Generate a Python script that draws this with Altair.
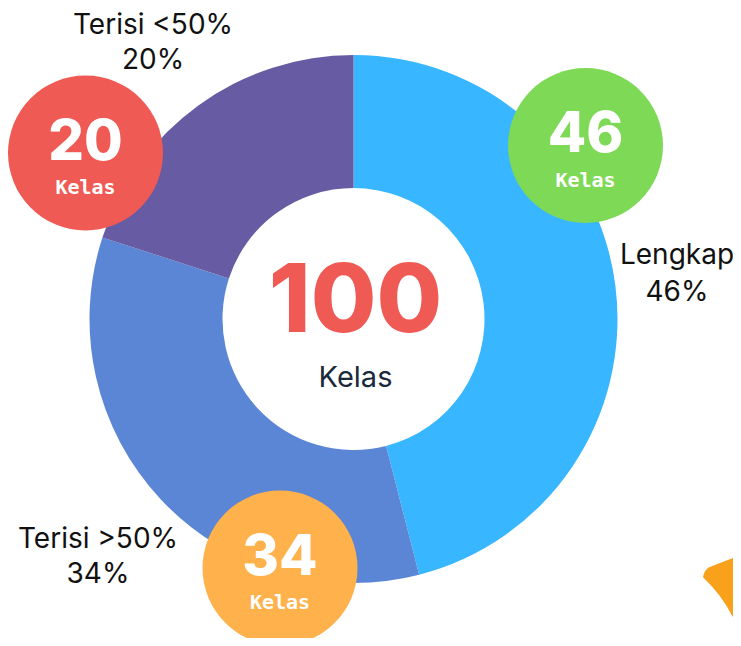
import altair as alt
import pandas as pd

# ---- data ----
categories = ["Lengkap", "Terisi >50%", "Terisi <50%"]
values = [46, 34, 20]
slice_colors = ["#38b6ff", "#5b86d5", "#675ba3"]
total_label = "100"
unit = "Kelas"

# badge circles (page coordinates of centres) and colours
badge_x = [585.5, 280, 85.5]
badge_y = [145.5, 568, 153]
badge_colors = ["#7ed957", "#ffb14b", "#f05a54"]

# outside labels (centre x, baselines of both lines)
label_x = [677, 98, 153]
label_y1 = [264, 548, 34]
label_y2 = [301, 583, 69]

# donut centre
donut_cx, donut_cy = 353.5, 319

W, H = 725, 630
xs = alt.Scale(domain=[8, 8 + W], range=[0, W])
ys = alt.Scale(domain=[8, 8 + H], range=[0, H])

pie_df = pd.DataFrame({
    "cat": categories, "value": values, "ord": [0, 1, 2],
    "cx": [donut_cx] * 3, "cy": [donut_cy] * 3,
})

donut = alt.Chart(pie_df).mark_arc(outerRadius=264, innerRadius=131).encode(
    theta=alt.Theta("value:Q", stack=True),
    order=alt.Order("ord:Q"),
    color=alt.Color("cat:N", scale=alt.Scale(domain=categories, range=slice_colors), legend=None),
    x=alt.X("cx:Q", scale=xs, axis=None),
    y=alt.Y("cy:Q", scale=ys, axis=None),
)

badge_df = pd.DataFrame({
    "value": values, "bx": badge_x, "by": badge_y, "bcolor": badge_colors,
    "num_y": [y + 6.5 for y in badge_y], "unit_y": [y + 41 for y in badge_y],
    "unit": [unit] * 3,
})
badge_df["num"] = badge_df["value"].astype(str)

badges = alt.Chart(badge_df).mark_circle(size=155 ** 2, opacity=1).encode(
    x=alt.X("bx:Q", scale=xs, axis=None),
    y=alt.Y("by:Q", scale=ys, axis=None),
    color=alt.Color("bcolor:N", scale=None, legend=None),
)

badge_num = alt.Chart(badge_df).mark_text(
    font="Inter", fontSize=56, fontWeight=800, color="white", align="center", baseline="alphabetic"
).encode(x=alt.X("bx:Q", scale=xs, axis=None), y=alt.Y("num_y:Q", scale=ys, axis=None), text="num:N")

badge_unit = alt.Chart(badge_df).mark_text(
    font="DejaVu Sans Mono", fontSize=20, fontWeight="bold", color="white", align="center", baseline="alphabetic"
).encode(x=alt.X("bx:Q", scale=xs, axis=None), y=alt.Y("unit_y:Q", scale=ys, axis=None), text="unit:N")

lab_rows = []
for c, v, lx, y1, y2 in zip(categories, values, label_x, label_y1, label_y2):
    lab_rows.append({"lx": lx, "ly": y1, "t": c})
    lab_rows.append({"lx": lx, "ly": y2, "t": f"{v}%"})
lab_df = pd.DataFrame(lab_rows)

labels = alt.Chart(lab_df).mark_text(
    font="Inter", fontSize=28, color="#111111", align="center", baseline="alphabetic"
).encode(x=alt.X("lx:Q", scale=xs, axis=None), y=alt.Y("ly:Q", scale=ys, axis=None), text="t:N")

center_df = pd.DataFrame({"cx": [355.5], "y1": [332], "y2": [387], "t1": [total_label], "t2": [unit]})
center_num = alt.Chart(center_df).mark_text(
    font="Inter", fontSize=95, fontWeight=800, color="#f05a54", align="center", baseline="alphabetic"
).encode(x=alt.X("cx:Q", scale=xs, axis=None), y=alt.Y("y1:Q", scale=ys, axis=None), text="t1:N")
center_unit = alt.Chart(center_df).mark_text(
    font="Inter", fontSize=29, color="#1b2a3a", align="center", baseline="alphabetic"
).encode(x=alt.X("cx:Q", scale=xs, axis=None), y=alt.Y("y2:Q", scale=ys, axis=None), text="t2:N")

# decorative orange shape in bottom-right corner
deco_df = pd.DataFrame({"dx": [725], "dy": [588]})
deco_path = "M -0.55 -0.27 Q -0.52 -0.45 -0.4 -0.52 L 0.45 -0.85 L 0.45 0.6 L 0.25 0.83 Q -0.05 0.2 -0.55 -0.27 Z"
deco = alt.Chart(deco_df).mark_point(
    shape=deco_path, filled=True, size=6400, color="#f9a11b", opacity=1
).encode(x=alt.X("dx:Q", scale=xs, axis=None), y=alt.Y("dy:Q", scale=ys, axis=None))

chart = alt.layer(donut, badges, badge_num, badge_unit, labels, center_num, center_unit, deco).properties(
    width=W, height=H, padding=0, autosize=alt.AutoSizeParams(type="none"), background="white"
).configure_view(stroke=None)

chart.save("out.html", embed_options={"renderer": "svg", "actions": False})
